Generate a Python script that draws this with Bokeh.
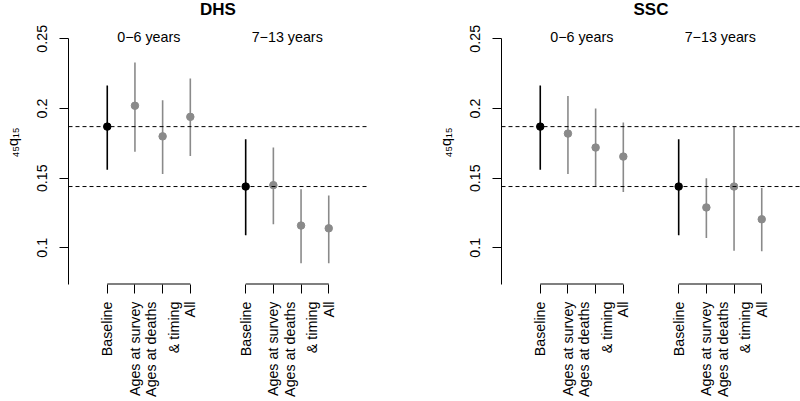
import math
from bokeh.plotting import figure
from bokeh.layouts import row
from bokeh.models import Range1d, FixedTicker, CustomJSTickFormatter, Span, LinearAxis
from bokeh.core.properties import value
from bokeh.embed import file_html
from bokeh.resources import INLINE

# ---- data ----
groups = ["0\u22126 years", "7\u221213 years"]
methods = ["Baseline", "Ages at survey", "Ages at deaths\n& timing", "All"]
y_ticks = [0.1, 0.15, 0.2, 0.25]
y_label = "\u2084\u2085q\u2081\u2085"

dhs_est = [0.187, 0.202, 0.180, 0.194, 0.144, 0.145, 0.116, 0.114]
dhs_lo = [0.156, 0.169, 0.153, 0.166, 0.109, 0.117, 0.089, 0.089]
dhs_hi = [0.2165, 0.233, 0.206, 0.2215, 0.178, 0.172, 0.142, 0.1375]

ssc_est = [0.187, 0.182, 0.172, 0.1655, 0.144, 0.129, 0.144, 0.1205]
ssc_lo = [0.156, 0.153, 0.144, 0.140, 0.109, 0.107, 0.098, 0.0976]
ssc_hi = [0.2165, 0.209, 0.200, 0.190, 0.178, 0.150, 0.187, 0.143]

FONT = "Liberation Sans"
FS = "14.3px"
H = 401
BOTTOM = 117
X0, X1 = -0.4, 10.4
Y0, Y1 = 0.0737, 0.2775


def panel(title, est, lo, hi, width, border_left, border_right):
    n_m = len(methods)
    xs, labels, colors = [], [], []
    for g in range(len(groups)):
        for m in range(n_m):
            xs.append(1 + g * (n_m + 1) + m)
            labels.append(methods[m])
            colors.append("black" if m == 0 else "#8a8a8a")

    p = figure(width=width, height=H,
               x_range=Range1d(X0, X1), y_range=Range1d(Y0, Y1),
               output_backend="svg", toolbar_location=None,
               x_axis_type=None, y_axis_type=None,
               min_border_left=border_left, min_border_right=border_right,
               min_border_top=0, min_border_bottom=BOTTOM)
    p.outline_line_color = None
    p.background_fill_color = "white"
    p.border_fill_color = "white"

    frame_h = H - BOTTOM
    px_y = frame_h / (Y1 - Y0)

    yaxis = LinearAxis(
        ticker=FixedTicker(ticks=y_ticks),
        formatter=CustomJSTickFormatter(code="return tick.toFixed(2).replace(/0$/, '');"),
        bounds=(Y0, max(y_ticks)),
        major_label_orientation="parallel",
        major_tick_out=9, major_tick_in=0,
        minor_tick_out=0, minor_tick_in=0,
        major_label_standoff=12,
        major_label_text_font=FONT, major_label_text_font_size=FS,
        major_label_text_color="black",
        axis_label=y_label, axis_label_standoff=14,
        axis_label_text_font=FONT, axis_label_text_font_size=FS,
        axis_label_text_font_style="normal", axis_label_text_color="black",
        axis_line_color="black", major_tick_line_color="black",
    )
    p.add_layout(yaxis, "left")

    xaxis = LinearAxis(
        ticker=FixedTicker(ticks=xs),
        formatter=CustomJSTickFormatter(
            args=dict(xs=xs, labels=labels),
            code="const i = xs.indexOf(Math.round(tick)); return i >= 0 ? labels[i] : '';"),
        axis_line_color=None,
        major_tick_out=9, major_tick_in=0,
        minor_tick_out=0, minor_tick_in=0,
        major_label_orientation=math.pi / 2,
        major_label_standoff=8,
        major_label_text_font=FONT, major_label_text_font_size=FS,
        major_label_text_color="black",
        major_label_text_line_height=1.43,
        major_tick_line_color="black",
    )
    p.add_layout(xaxis, "below")

    # panel title at the top of the panel
    p.text(x=[(X0 + X1) / 2], y=[Y1 - 8.5 / px_y], text=[title],
           text_align="center", text_baseline="middle",
           text_font=value(FONT), text_font_size="17px",
           text_font_style="bold", text_color="black")

    # brackets along the bottom edge for each group
    bx0, bx1 = [], []
    for g in range(len(groups)):
        bx0.append(xs[g * n_m])
        bx1.append(xs[g * n_m + n_m - 1])
    p.segment(x0=bx0, y0=[Y0] * len(bx0), x1=bx1, y1=[Y0] * len(bx0),
              line_color="black", line_width=2)

    # reference dashed lines at baseline estimates
    for g in range(len(groups)):
        p.add_layout(Span(location=est[g * n_m], dimension="width",
                          line_color="black", line_width=1, line_dash="4 3"))

    # group labels
    centers = [sum(xs[g * n_m:(g + 1) * n_m]) / n_m for g in range(len(groups))]
    p.text(x=centers, y=[max(y_ticks) + 1.5 / px_y] * len(groups), text=groups,
           text_align="center", text_baseline="middle",
           text_font=value(FONT), text_font_size=FS, text_color="black")

    # intervals and estimates
    p.segment(x0=xs, y0=lo, x1=xs, y1=hi, line_color=colors, line_width=1.6)
    p.scatter(x=xs, y=est, size=7.5, fill_color=colors, line_color=colors)
    return p


p1 = panel("DHS", dhs_est, dhs_lo, dhs_hi, 433, 68, 66)
p2 = panel("SSC", ssc_est, ssc_lo, ssc_hi, 367, 68, 0)
layout = row(p1, p2)

open("out.html", "w").write(file_html(layout, INLINE, title="DHS vs SSC"))
